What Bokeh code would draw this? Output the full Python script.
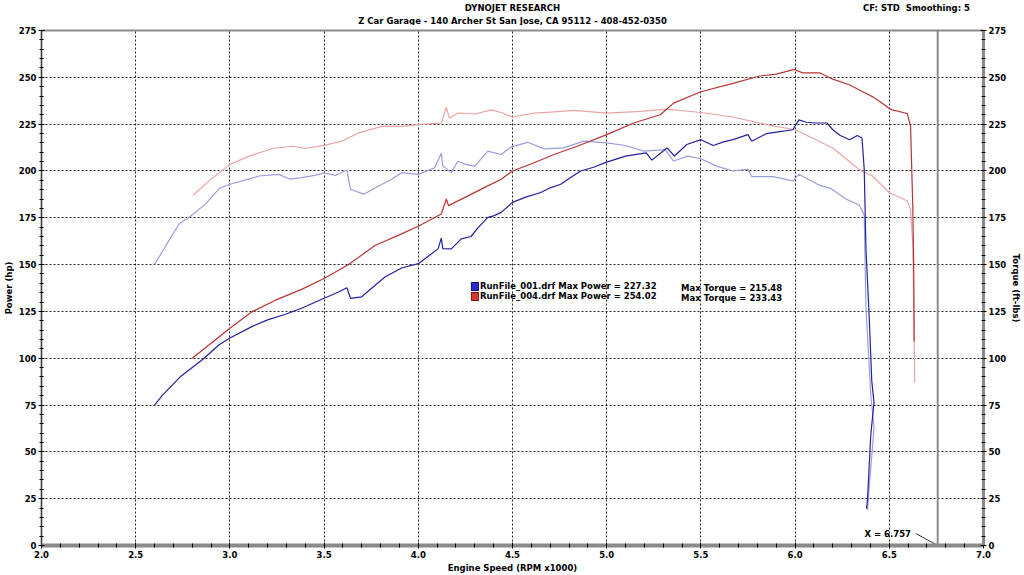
from bokeh.plotting import figure
from bokeh.layouts import column
from bokeh.models import (Range1d, LinearAxis, FixedTicker, Span, Label, Legend,
                          LegendItem, PrintfTickFormatter, ColumnDataSource)
from bokeh.embed import file_html
from bokeh.resources import INLINE

# ---------------- data ----------------
# RunFile_001 power (hp) vs engine speed (RPM x1000)
p1_rpm = [2.60, 2.64, 2.74, 2.855, 2.943, 3.0, 3.119, 3.2, 3.295, 3.38, 3.5, 3.58, 3.621, 3.64,
          3.70, 3.76, 3.823, 3.911, 4.0, 4.06, 4.105, 4.122, 4.13, 4.175, 4.228, 4.28, 4.32,
          4.369, 4.40, 4.44, 4.5, 4.57, 4.65, 4.70, 4.756, 4.80, 4.862, 4.93, 5.0, 5.1, 5.21,
          5.24, 5.32, 5.36, 5.425, 5.5, 5.565, 5.62, 5.67, 5.75, 5.77, 5.847, 5.92, 5.988,
          6.02, 6.06, 6.11, 6.17, 6.2, 6.24, 6.29, 6.33, 6.355, 6.367, 6.376, 6.393, 6.407,
          6.419, 6.402, 6.384, 6.379]
p1_hp = [75, 80, 90.4, 99.3, 107.2, 110.8, 117, 120.5, 123.5, 126.7, 132, 135.5, 137.6, 132,
         132.8, 138, 143.4, 148.2, 150.5, 155, 158.4, 164.1, 158.5, 158.4, 163.7, 165, 170,
         175.2, 176, 177.9, 183.2, 186, 188.5, 191, 192.9, 196, 200, 202, 204.7, 207.9, 209.7,
         205.8, 212.3, 208, 214.1, 216.7, 213.6, 215.5, 216.7, 219.4, 215.9, 219.9, 221, 222,
         227.3, 226, 225.6, 225.6, 222, 218.9, 216.7, 218.9, 217.6, 200.8, 158.5, 123, 87.8,
         76.3, 59.5, 24.2, 19.6]

# RunFile_001 torque (ft-lbs)
t1_rpm = [2.60, 2.73, 2.794, 2.87, 2.943, 3.0, 3.1, 3.155, 3.26, 3.32, 3.38, 3.45, 3.5, 3.56,
          3.621, 3.64, 3.71, 3.79, 3.85, 3.911, 4.0, 4.087, 4.122, 4.13, 4.175, 4.21, 4.25,
          4.30, 4.369, 4.44, 4.49, 4.58, 4.668, 4.77, 4.879, 5.0, 5.1, 5.196, 5.31, 5.355,
          5.43, 5.5, 5.583, 5.67, 5.75, 5.77, 5.883, 5.988, 6.02, 6.129, 6.19, 6.27, 6.34,
          6.36, 6.367, 6.376, 6.402, 6.419, 6.384]
t1_tq = [150.1, 171.7, 176.1, 182.3, 190.6, 192.9, 195.6, 197.3, 198.2, 195.6, 196.4, 197.6,
         198.9, 197.6, 200.5, 190.2, 187.6, 192, 195, 199.1, 198.2, 201.7, 209.5, 202.7, 199.1,
         205.2, 203.5, 202.6, 210.6, 208.8, 212.7, 215.3, 211.8, 212.3, 215.9, 215, 213.6,
         210.6, 211.4, 205.3, 207.9, 206.5, 202.6, 200, 200.9, 197, 197, 194.7, 198.2, 192.4,
         190.6, 185, 181.8, 177.9, 176.1, 127, 80, 63, 19]

# RunFile_004 power (hp)
p4_rpm = [2.80, 2.90, 3.0, 3.119, 3.242, 3.383, 3.5, 3.63, 3.77, 3.911, 4.0, 4.122, 4.149,
          4.16, 4.264, 4.35, 4.44, 4.5, 4.615, 4.72, 4.844, 5.0, 5.143, 5.284, 5.355, 5.5,
          5.67, 5.812, 5.9, 5.997, 6.04, 6.13, 6.2, 6.29, 6.375, 6.41, 6.463, 6.498, 6.516,
          6.595, 6.613, 6.625, 6.63, 6.632]
p4_hp = [100, 108, 116, 124.9, 131, 136.9, 142.6, 150, 160.2, 166.4, 170.5, 177, 185, 181.5,
         186.7, 191.1, 195.6, 200, 204.4, 208.8, 213.2, 219.4, 225.6, 230, 236.2, 242.3, 246.8,
         250.7, 251.7, 254.2, 252.4, 252.4, 249, 245.9, 241.5, 239.7, 236.2, 233.5, 232.6,
         230.7, 223.8, 179.6, 144, 109]

# RunFile_004 torque (ft-lbs)
t4_rpm = [2.803, 2.89, 3.0, 3.102, 3.225, 3.33, 3.40, 3.5, 3.594, 3.683, 3.806, 3.911, 4.0,
          4.122, 4.149, 4.165, 4.21, 4.3, 4.387, 4.44, 4.5, 4.615, 4.72, 4.826, 5.0, 5.18,
          5.32, 5.5, 5.671, 5.847, 6.0, 6.111, 6.2, 6.34, 6.41, 6.5, 6.595, 6.613, 6.625, 6.635]
t4_tq = [187, 194.7, 203.5, 207.9, 212, 213.2, 212, 213.7, 215.9, 220.3, 223.8, 223.8, 224.7,
         225.6, 233.9, 228.2, 230.9, 230.4, 232.6, 231.2, 228.8, 230.9, 231.5, 232.3, 230.9,
         231.8, 233, 231.2, 228.8, 224.7, 222, 216.7, 212.3, 200.8, 197.3, 188.5, 184, 179.6,
         160.2, 87]

run_names = ["RunFile_001.drf", "RunFile_004.drf"]
max_power = [227.32, 254.02]
max_torque = [215.48, 233.43]
cursor_x = 6.757

x_major = [2.0, 2.5, 3.0, 3.5, 4.0, 4.5, 5.0, 5.5, 6.0, 6.5, 7.0]
y_major = [0, 25, 50, 75, 100, 125, 150, 175, 200, 225, 250, 275]

title_text = "DYNOJET RESEARCH"
subtitle_text = "Z Car Garage - 140 Archer St San Jose, CA 95112 - 408-452-0350"
settings_text = "CF: STD\u00a0\u00a0Smoothing: 5"

# ---------------- styling ----------------
FONT = "DejaVu Sans"
FS = "8.5px"
C_P1, C_T1 = "#22229c", "#9c9cdc"
C_P4, C_T4 = "#b83434", "#eaa4a4"

def txt(**kw):
    base = dict(text_font=FONT, text_font_size=FS, text_font_style="bold",
                text_color="black", text_baseline="middle")
    base.update(kw)
    return Label(**base)

# ---------------- header strip ----------------
HDR_H = 25
hdr = figure(width=1024, height=HDR_H, output_backend="svg", toolbar_location=None,
             x_range=Range1d(0, 1024), y_range=Range1d(HDR_H, 0),
             min_border_left=0, min_border_right=0, min_border_top=0, min_border_bottom=0,
             outline_line_color=None)
hdr.axis.visible = False
hdr.grid.visible = False
hdr.add_layout(txt(x=512, y=7.5, text=title_text, text_align="center"))
hdr.add_layout(txt(x=512, y=20.5, text=subtitle_text, text_align="center"))
hdr.add_layout(txt(x=893, y=7, text=settings_text, text_align="left"))

# ---------------- main chart ----------------
p = figure(width=1024, height=575 - HDR_H, output_backend="svg", toolbar_location=None,
           x_range=Range1d(2.0, 7.0), y_range=Range1d(0, 275),
           min_border_left=38, min_border_right=39, min_border_top=5, min_border_bottom=26)
p.extra_y_ranges = {"torque": Range1d(0, 275)}
p.background_fill_color = "white"
p.border_fill_color = "white"
p.outline_line_color = "#8a8a8a"
p.outline_line_width = 2

x_minor = [round(2.0 + 0.1 * i, 1) for i in range(51)]
y_minor = list(range(0, 276, 5))

def style_axis(ax, line_color, line_width):
    ax.axis_line_color = line_color
    ax.axis_line_width = line_width
    ax.major_tick_line_color = "black"
    ax.minor_tick_line_color = "black"
    ax.major_tick_in = 3
    ax.major_tick_out = 3
    ax.minor_tick_in = 2
    ax.minor_tick_out = 2
    ax.major_label_text_font = FONT
    ax.major_label_text_font_size = FS
    ax.major_label_text_font_style = "bold"
    ax.major_label_text_color = "black"
    ax.axis_label_text_font = FONT
    ax.axis_label_text_font_size = FS
    ax.axis_label_text_font_style = "bold"
    ax.axis_label_text_color = "black"
    ax.major_label_standoff = 2
    ax.axis_label_standoff = 2

xa = p.xaxis[0]
xa.ticker = FixedTicker(ticks=x_major, minor_ticks=x_minor)
xa.formatter = PrintfTickFormatter(format="%.1f")
xa.axis_label = "Engine Speed (RPM x1000)"
style_axis(xa, "#8a8a8a", 4)

ya = p.yaxis[0]
ya.ticker = FixedTicker(ticks=y_major, minor_ticks=y_minor)
ya.axis_label = "Power (hp)"
style_axis(ya, "#404040", 1)

ra = LinearAxis(y_range_name="torque", axis_label="Torque (ft-lbs)",
                ticker=FixedTicker(ticks=y_major, minor_ticks=y_minor))
style_axis(ra, "#8a8a8a", 3)
p.add_layout(ra, "right")

p.xgrid.ticker = FixedTicker(ticks=x_major[1:-1])
p.ygrid.ticker = FixedTicker(ticks=y_major[1:-1])
for g in (p.xgrid, p.ygrid):
    g.grid_line_color = "#202020"
    g.grid_line_dash = "2 2"
    g.grid_line_width = 1

# curves
p.line(t1_rpm, t1_tq, y_range_name="torque", line_color=C_T1, line_width=1.2)
p.line(t4_rpm, t4_tq, y_range_name="torque", line_color=C_T4, line_width=1.2)
p.line(p1_rpm, p1_hp, line_color=C_P1, line_width=1.2)
p.line(p4_rpm, p4_hp, line_color=C_P4, line_width=1.2)

# cursor
p.add_layout(Span(location=cursor_x, dimension="height", line_color="#8a8a8a", line_width=2))
p.line([cursor_x - 0.116, cursor_x], [6.4, 0], line_color="#303030", line_width=1)
p.add_layout(txt(x=cursor_x - 0.142, y=6.4, text="X = %.3f" % cursor_x, text_align="right"))

# legend (swatches only; hidden NaN glyphs supply the legend squares)
nan = float("nan")
src_nan = ColumnDataSource(dict(l=[nan], r=[nan], t=[nan], b=[nan]))
r_leg1 = p.quad(left="l", right="r", top="t", bottom="b", source=src_nan,
                fill_color="#2a2ad0", line_color="#101060", line_width=1)
r_leg2 = p.quad(left="l", right="r", top="t", bottom="b", source=src_nan,
                fill_color="#d83434", line_color="#701010", line_width=1)
items = [LegendItem(label="%s Max Power = %.2f" % (run_names[0], max_power[0]), renderers=[r_leg1]),
         LegendItem(label="%s Max Power = %.2f" % (run_names[1], max_power[1]), renderers=[r_leg2])]
leg = Legend(items=items, location=(429, 244), glyph_width=9, glyph_height=10,
             label_height=10, label_standoff=1, spacing=0, padding=0, margin=0,
             background_fill_alpha=0, border_line_alpha=0,
             label_text_font=FONT, label_text_font_size=FS, label_text_font_style="bold",
             label_text_color="black")
p.add_layout(leg)
for i, yy in enumerate([137.6, 132.4]):
    p.add_layout(txt(x=5.395, y=yy, text="Max Torque = %.2f" % max_torque[i]))

layout = column(hdr, p, spacing=0)
open("out.html", "w").write(file_html(layout, INLINE))
